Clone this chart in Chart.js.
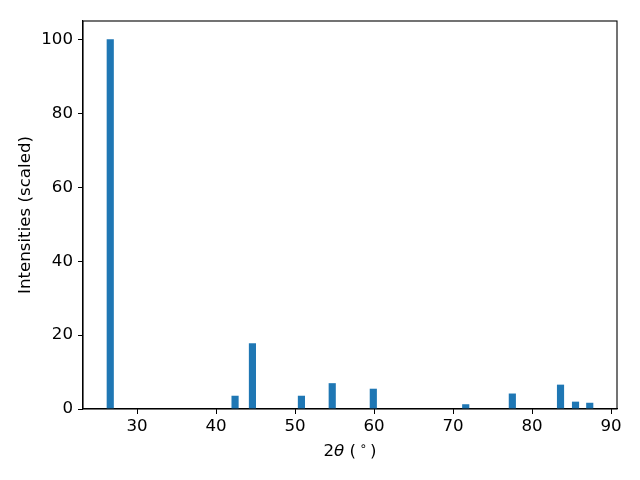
<!DOCTYPE html>
<html>
<head>
<meta charset="utf-8">
<script src="https://cdn.jsdelivr.net/npm/chart.js@4/dist/chart.umd.min.js"></script>
<style>
html,body{margin:0;padding:0;background:#fff;}
#wrap{width:640px;height:480px;}
</style>
</head>
<body>
<div id="wrap"><canvas id="c" width="640" height="480"></canvas></div>
<script>
const angles = [26.6, 42.4, 44.6, 50.8, 54.7, 59.9, 71.6, 77.5, 83.6, 85.5, 87.3];
const intensities = [100, 3.5, 17.7, 3.5, 6.9, 5.4, 1.2, 4.1, 6.5, 1.9, 1.6];
const xTicks = [30, 40, 50, 60, 70, 80, 90];
const yTicks = [0, 20, 40, 60, 80, 100];
const xLabelParts = [['2', ''], ['θ', 'italic '], [' (\u2009', ''], ['∘', 'sup'], ['\u2009)', '']];
const yLabel = 'Intensities (scaled)';

const FONT = 'DejaVu Sans';
const FS = 16.67;

const boxPlugin = {
  id: 'box',
  afterDraw(chart) {
    const a = chart.chartArea, ctx = chart.ctx;
    ctx.save();
    ctx.strokeStyle = '#000';
    ctx.lineWidth = 1.1;
    ctx.strokeRect(a.left, a.top, a.right - a.left, a.bottom - a.top);
    // x axis title with mixed styles
    const fontFor = st => st === 'sup' ? (FS * 0.7) + 'px "' + FONT + '"' : st + FS + 'px "' + FONT + '"';
    let total = 0;
    xLabelParts.forEach(([t, st]) => { ctx.font = fontFor(st); total += ctx.measureText(t).width; });
    let x = (a.left + a.right) / 2 - total / 2;
    const y = 452;
    ctx.fillStyle = '#000';
    ctx.textBaseline = 'middle';
    ctx.textAlign = 'left';
    xLabelParts.forEach(([t, st]) => {
      ctx.font = fontFor(st);
      ctx.fillText(t, x, st === 'sup' ? y - 5 : y);
      x += ctx.measureText(t).width;
    });
    ctx.restore();
  }
};

new Chart(document.getElementById('c'), {
  type: 'bar',
  data: {
    datasets: [{
      data: angles.map((a, i) => ({x: a, y: intensities[i]})),
      backgroundColor: '#1f77b4',
      borderWidth: 0,
      barThickness: 6.5
    }]
  },
  options: {
    responsive: false,
    animation: false,
    devicePixelRatio: 1,
    layout: {padding: {left: 0, right: 23, top: 21, bottom: 0}},
    plugins: {legend: {display: false}, tooltip: {enabled: false}},
    scales: {
      x: {
        type: 'linear',
        offset: false,
        min: 23.15,
        max: 90.75,
        afterBuildTicks: s => { s.ticks = xTicks.map(v => ({value: v})); },
        afterFit: s => { s.height = 71; },
        grid: {display: true, offset: false, drawOnChartArea: false, drawTicks: true, tickLength: 5, color: '#000', lineWidth: 1},
        border: {display: true, color: '#000', width: 1.1},
        ticks: {color: '#000', font: {family: FONT, size: FS}, padding: 3, maxRotation: 0},
        title: {display: false}
      },
      y: {
        type: 'linear',
        min: 0,
        max: 105,
        afterBuildTicks: s => { s.ticks = yTicks.map(v => ({value: v})); },
        afterFit: s => { s.width = 83; },
        grid: {display: true, drawOnChartArea: false, drawTicks: true, tickLength: 5, color: '#000', lineWidth: 1},
        border: {display: true, color: '#000', width: 1.1},
        ticks: {color: '#000', font: {family: FONT, size: FS}, padding: 5},
        title: {display: true, text: yLabel, color: '#000', font: {family: FONT, size: FS}, padding: {top: 16, bottom: 0}}
      }
    }
  },
  plugins: [boxPlugin]
});
</script>
</body>
</html>
